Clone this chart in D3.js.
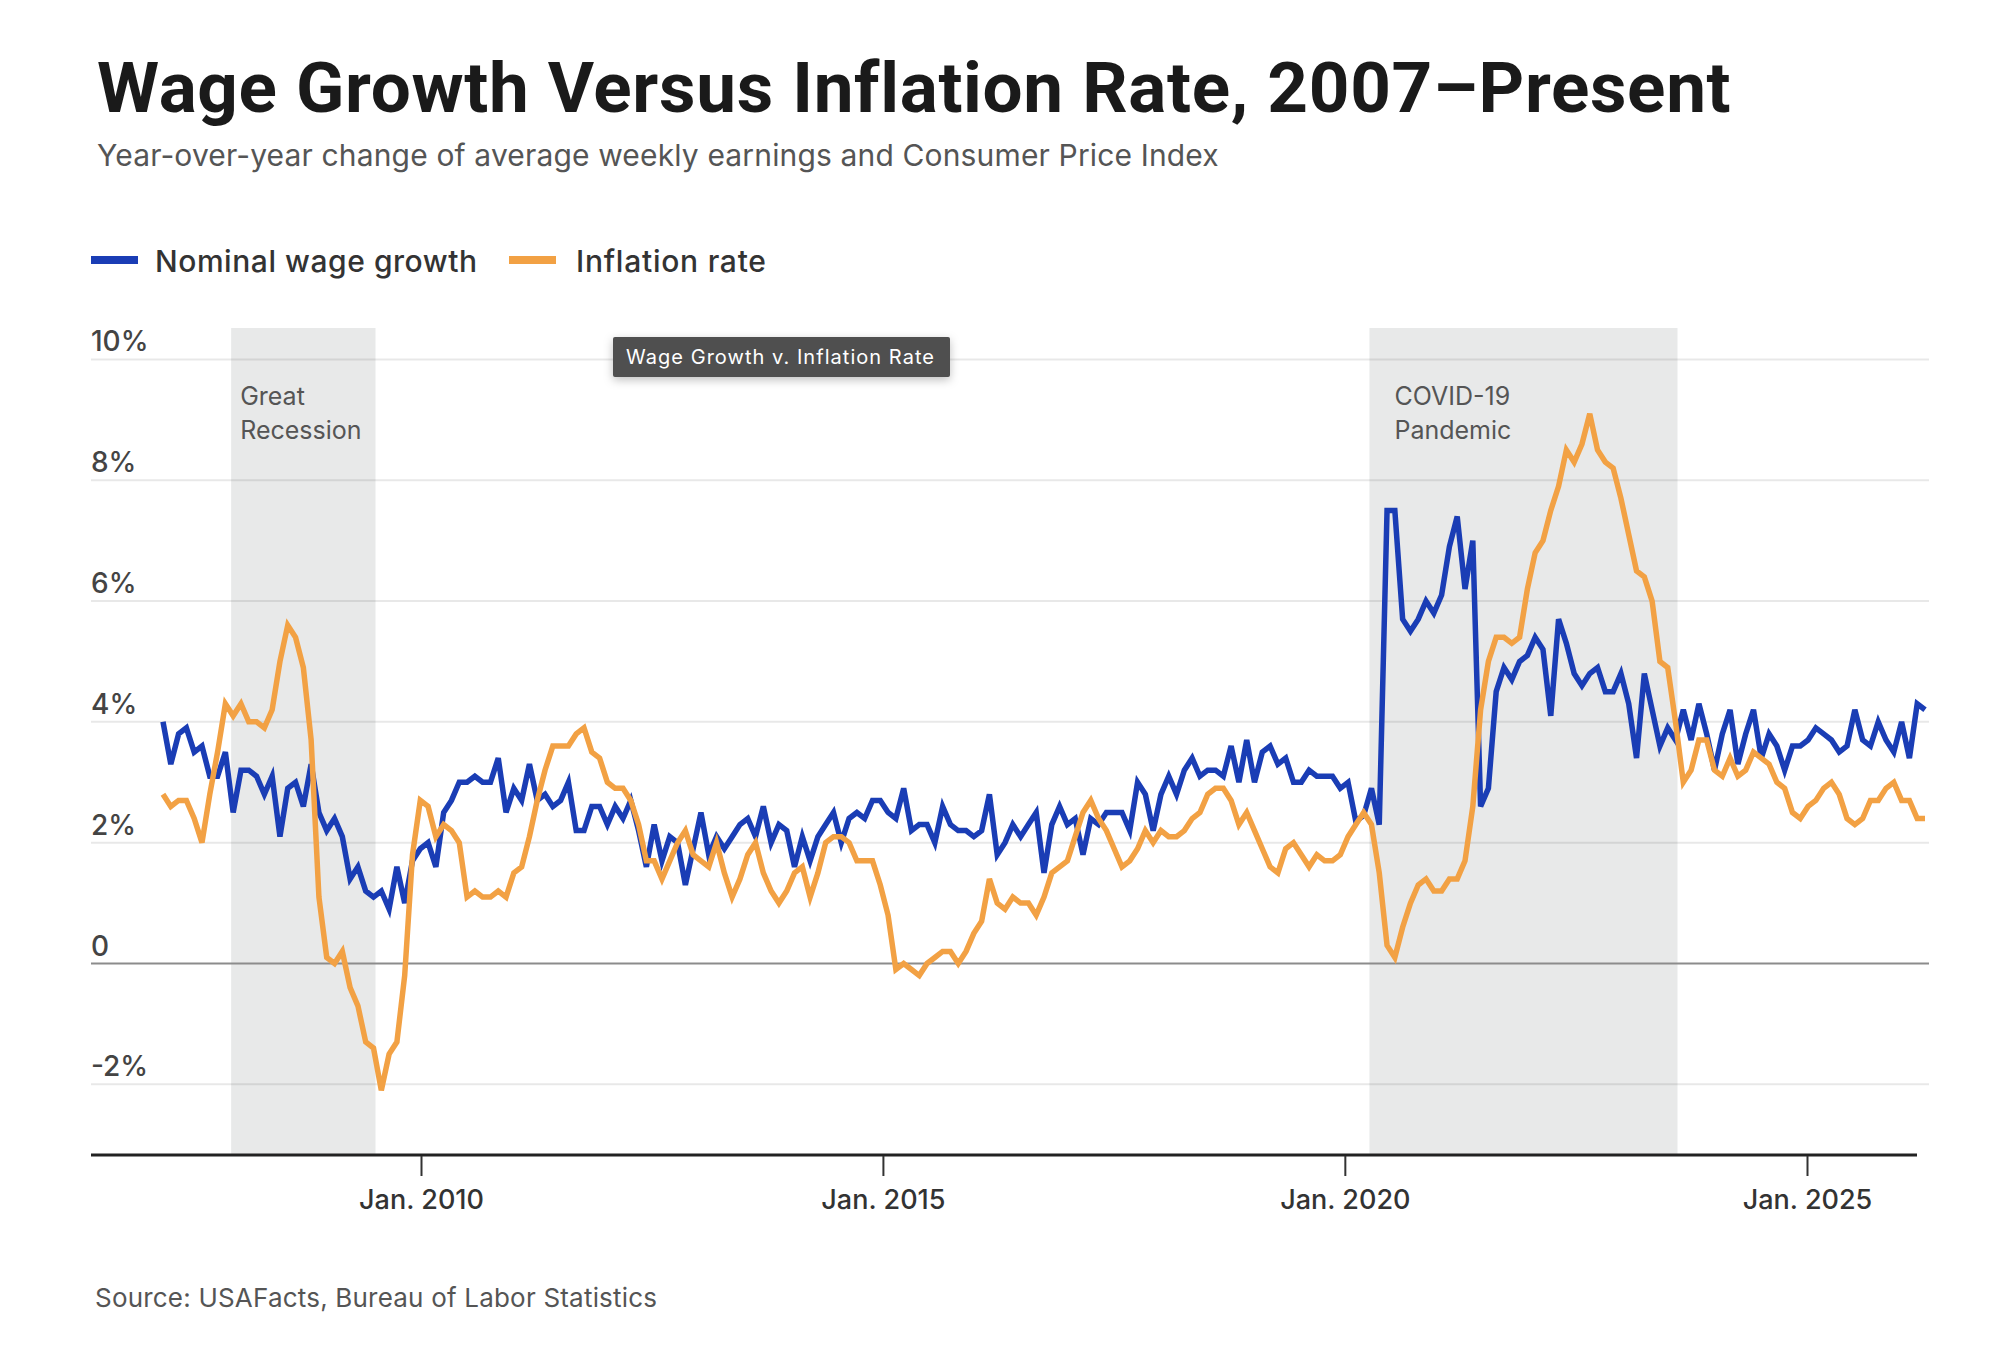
<!DOCTYPE html>
<html>
<head>
<meta charset="utf-8">
<script src="https://cdn.jsdelivr.net/npm/d3@7"></script>
<style>
  html, body { margin: 0; padding: 0; background: #fff; }
  svg { display: block; }
  text { font-family: Inter, "Noto Sans", sans-serif; }
</style>
</head>
<body>
<div id="chart"></div>
<script>
////////////////////////////////////////////////////////////////////
////////////////////////////  Data  ////////////////////////////////
// monthly, Mar. 2007 - Feb. 2026 (no Oct. 2025 release, so that month is skipped)
const firstMonth = new Date(2007, 2, 1);
const lastMonth = new Date(2026, 1, 1);
const skippedMonths = ["2025-10"];

// year-over-year change of average weekly earnings, %
const wageGrowth = [
  4.0, 3.3, 3.8, 3.9, 3.5, 3.6, 3.1, 3.1, 3.5, 2.5, // 2007 (Mar-Dec)
  3.2, 3.2, 3.1, 2.8, 3.1, 2.1, 2.9, 3.0, 2.6, 3.3, 2.5, 2.2, // 2008
  2.4, 2.1, 1.4, 1.6, 1.2, 1.1, 1.2, 0.9, 1.6, 1.0, 1.7, 1.9, // 2009
  2.0, 1.6, 2.5, 2.7, 3.0, 3.0, 3.1, 3.0, 3.0, 3.4, 2.5, 2.9, // 2010
  2.7, 3.3, 2.7, 2.8, 2.6, 2.7, 3.0, 2.2, 2.2, 2.6, 2.6, 2.3, // 2011
  2.6, 2.4, 2.7, 2.2, 1.6, 2.3, 1.7, 2.1, 2.0, 1.3, 1.9, 2.5, // 2012
  1.8, 2.1, 1.9, 2.1, 2.3, 2.4, 2.1, 2.6, 2.0, 2.3, 2.2, 1.6, // 2013
  2.1, 1.7, 2.1, 2.3, 2.5, 2.0, 2.4, 2.5, 2.4, 2.7, 2.7, 2.5, // 2014
  2.4, 2.9, 2.2, 2.3, 2.3, 2.0, 2.6, 2.3, 2.2, 2.2, 2.1, 2.2, // 2015
  2.8, 1.8, 2.0, 2.3, 2.1, 2.3, 2.5, 1.5, 2.3, 2.6, 2.3, 2.4, // 2016
  1.8, 2.4, 2.3, 2.5, 2.5, 2.5, 2.2, 3.0, 2.8, 2.2, 2.8, 3.1, // 2017
  2.8, 3.2, 3.4, 3.1, 3.2, 3.2, 3.1, 3.6, 3.0, 3.7, 3.0, 3.5, // 2018
  3.6, 3.3, 3.4, 3.0, 3.0, 3.2, 3.1, 3.1, 3.1, 2.9, 3.0, 2.35, // 2019
  2.45, 2.9, 2.3, 7.5, 7.5, 5.7, 5.5, 5.7, 6.0, 5.8, 6.1, 6.9, // 2020
  7.4, 6.2, 7.0, 2.6, 2.9, 4.5, 4.9, 4.7, 5.0, 5.1, 5.4, 5.2, // 2021
  4.1, 5.7, 5.3, 4.8, 4.6, 4.8, 4.9, 4.5, 4.5, 4.8, 4.3, 3.4, // 2022
  4.8, 4.2, 3.6, 3.9, 3.7, 4.2, 3.7, 4.3, 3.8, 3.2, 3.8, 4.2, // 2023
  3.3, 3.8, 4.2, 3.4, 3.8, 3.6, 3.2, 3.6, 3.6, 3.7, 3.9, 3.8, // 2024
  3.7, 3.5, 3.6, 4.2, 3.7, 3.6, 4.0, 3.7, 3.5, 4.0, 3.4, // 2025 (no Oct)
  4.3, 4.2 // 2026
];

// year-over-year change of CPI, %
const inflationRate = [
  2.8, 2.6, 2.7, 2.7, 2.4, 2.0, 2.8, 3.5, 4.3, 4.1, // 2007 (Mar-Dec)
  4.3, 4.0, 4.0, 3.9, 4.2, 5.0, 5.6, 5.4, 4.9, 3.7, 1.1, 0.1, // 2008
  0.0, 0.2, -0.4, -0.7, -1.3, -1.4, -2.1, -1.5, -1.3, -0.2, 1.8, 2.7, // 2009
  2.6, 2.1, 2.3, 2.2, 2.0, 1.1, 1.2, 1.1, 1.1, 1.2, 1.1, 1.5, // 2010
  1.6, 2.1, 2.7, 3.2, 3.6, 3.6, 3.6, 3.8, 3.9, 3.5, 3.4, 3.0, // 2011
  2.9, 2.9, 2.7, 2.3, 1.7, 1.7, 1.4, 1.7, 2.0, 2.2, 1.8, 1.7, // 2012
  1.6, 2.0, 1.5, 1.1, 1.4, 1.8, 2.0, 1.5, 1.2, 1.0, 1.2, 1.5, // 2013
  1.6, 1.1, 1.5, 2.0, 2.1, 2.1, 2.0, 1.7, 1.7, 1.7, 1.3, 0.8, // 2014
  -0.1, 0.0, -0.1, -0.2, 0.0, 0.1, 0.2, 0.2, 0.0, 0.2, 0.5, 0.7, // 2015
  1.4, 1.0, 0.9, 1.1, 1.0, 1.0, 0.8, 1.1, 1.5, 1.6, 1.7, 2.1, // 2016
  2.5, 2.7, 2.4, 2.2, 1.9, 1.6, 1.7, 1.9, 2.2, 2.0, 2.2, 2.1, // 2017
  2.1, 2.2, 2.4, 2.5, 2.8, 2.9, 2.9, 2.7, 2.3, 2.5, 2.2, 1.9, // 2018
  1.6, 1.5, 1.9, 2.0, 1.8, 1.6, 1.8, 1.7, 1.7, 1.8, 2.1, 2.3, // 2019
  2.5, 2.3, 1.5, 0.3, 0.1, 0.6, 1.0, 1.3, 1.4, 1.2, 1.2, 1.4, // 2020
  1.4, 1.7, 2.6, 4.2, 5.0, 5.4, 5.4, 5.3, 5.4, 6.2, 6.8, 7.0, // 2021
  7.5, 7.9, 8.5, 8.3, 8.6, 9.1, 8.5, 8.3, 8.2, 7.7, 7.1, 6.5, // 2022
  6.4, 6.0, 5.0, 4.9, 4.0, 3.0, 3.2, 3.7, 3.7, 3.2, 3.1, 3.4, // 2023
  3.1, 3.2, 3.5, 3.4, 3.3, 3.0, 2.9, 2.5, 2.4, 2.6, 2.7, 2.9, // 2024
  3.0, 2.8, 2.4, 2.3, 2.4, 2.7, 2.7, 2.9, 3.0, 2.7, 2.7, // 2025 (no Oct)
  2.4, 2.4 // 2026
];

const seriesNames = ["Nominal wage growth", "Inflation rate"];
const seriesColors = ["#1a3db5", "#f2a144"];

const periods = [
  { label: ["Great", "Recession"], start: "2007-12", end: "2009-06" },
  { label: ["COVID-19", "Pandemic"], start: "2020-02", end: "2023-05" }
];

const yTicks = [-2, 0, 2, 4, 6, 8, 10];
const xTickDates = [2010, 2015, 2020, 2025].map((yr) => new Date(yr, 0, 1));

const monthKey = d3.timeFormat("%Y-%m");
const months = d3
  .timeMonth.range(firstMonth, d3.timeMonth.offset(lastMonth, 1))
  .map(monthKey)
  .filter((m) => !skippedMonths.includes(m));

const data = months.map((m, i) => ({
  month: m,
  wage: wageGrowth[i],
  cpi: inflationRate[i]
}));
console.log(months.length, wageGrowth.length, inflationRate.length);

////////////////////////////////////////////////////////////////////
////////////////////////////  Layout  //////////////////////////////
const width = 2014;
const height = 1356;
const plot = { left: 91, right: 1917, gridRight: 1929, top: 328, bottom: 1155 };

const svg = d3
  .select("#chart")
  .append("svg")
  .attr("width", width)
  .attr("height", height);

// fit a text to a measured width by adjusting letter spacing
function fitWidth(sel, target) {
  const n = sel.text().length;
  const w = sel.node().getComputedTextLength();
  sel.attr("letter-spacing", ((target - w) / (n - 1)).toFixed(2));
  return sel;
}

// scales
const x = d3.scalePoint().domain(months).range([163, 1925]);
const y = d3.scaleLinear().domain([-3.17, 10.52]).range([plot.bottom, plot.top]);
// date axis of the original
const xAxisScale = d3
  .scaleTime()
  .domain([xTickDates[0], xTickDates[xTickDates.length - 1]])
  .range([421, 1807]);

////////////////////////////  Titles  //////////////////////////////
fitWidth(
  svg
    .append("text")
    .attr("x", 97)
    .attr("y", 112)
    .style("font-family", "Roboto, Inter, sans-serif")
    .style("font-weight", 700)
    .style("font-size", "71px")
    .style("fill", "#1a1a1a")
    .text("Wage Growth Versus Inflation Rate, 2007\u2013Present"),
  1633
);

fitWidth(
  svg
    .append("text")
    .attr("x", 97)
    .attr("y", 166)
    .style("font-size", "30px")
    .style("fill", "#555")
    .text("Year-over-year change of average weekly earnings and Consumer Price Index"),
  1122
);

////////////////////////////  Legend  //////////////////////////////
const legendItems = [
  { x: 91, tx: 155, w: 322 },
  { x: 509, tx: 576, w: 190 }
];
legendItems.forEach((d, i) => {
  svg
    .append("rect")
    .attr("x", d.x)
    .attr("y", 256)
    .attr("width", 47)
    .attr("height", 8)
    .attr("fill", seriesColors[i]);
  fitWidth(
    svg
      .append("text")
      .attr("x", d.tx)
      .attr("y", 272)
      .style("font-size", "30px")
      .style("font-weight", 500)
      .style("fill", "#333")
      .text(seriesNames[i]),
    d.w
  );
});

////////////////////////////  Shaded periods  ///////////////////////
const periodG = svg.append("g");
periodG
  .selectAll("rect")
  .data(periods)
  .enter()
  .append("rect")
  .attr("x", (d) => x(d.start) - 2)
  .attr("y", plot.top)
  .attr("width", (d) => x(d.end) - x(d.start) + 4)
  .attr("height", plot.bottom - plot.top)
  .attr("fill", "#e8e9e9");

periodG
  .selectAll("text")
  .data(periods)
  .enter()
  .append("text")
  .attr("x", (d) => x(d.start) + (d.start === "2007-12" ? 7 : 23))
  .attr("y", 405)
  .style("font-size", "25px")
  .style("fill", "#555")
  .selectAll("tspan")
  .data((d) => d.label)
  .enter()
  .append("tspan")
  .attr("x", function () {
    return d3.select(this.parentNode).attr("x");
  })
  .attr("dy", (d, i) => (i === 0 ? 0 : 34))
  .text((d) => d);

////////////////////////////  Grid & y labels  /////////////////////
const gridG = svg.append("g");
gridG
  .selectAll("line")
  .data(yTicks)
  .enter()
  .append("line")
  .attr("x1", plot.left)
  .attr("x2", plot.gridRight)
  .attr("y1", (d) => y(d))
  .attr("y2", (d) => y(d))
  .attr("stroke", (d) => (d === 0 ? "#8c8c8c" : "#000"))
  .attr("stroke-opacity", (d) => (d === 0 ? 1 : 0.09))
  .attr("stroke-width", 2);

gridG
  .selectAll("text")
  .data(yTicks)
  .enter()
  .append("text")
  .attr("x", plot.left)
  .attr("y", (d) => y(d) - 8)
  .style("font-size", "28px")
  .style("font-weight", 500)
  .style("fill", "#444")
  .text((d) => (d === 0 ? "0" : d + "%"));

////////////////////////////  Lines  ///////////////////////////////
const lineWage = d3
  .line()
  .x((d) => x(d.month))
  .y((d) => y(d.wage));
const lineCpi = d3
  .line()
  .x((d) => x(d.month))
  .y((d) => y(d.cpi));

svg
  .append("path")
  .datum(data)
  .attr("d", lineWage)
  .attr("fill", "none")
  .attr("stroke", seriesColors[0])
  .attr("stroke-width", 5.5);

svg
  .append("path")
  .datum(data)
  .attr("d", lineCpi)
  .attr("fill", "none")
  .attr("stroke", seriesColors[1])
  .attr("stroke-width", 5.5);

////////////////////////////  X axis  //////////////////////////////
svg
  .append("line")
  .attr("x1", plot.left)
  .attr("x2", plot.right)
  .attr("y1", plot.bottom)
  .attr("y2", plot.bottom)
  .attr("stroke", "#222")
  .attr("stroke-width", 3);

const xAxis = d3
  .axisBottom(xAxisScale)
  .tickValues(xTickDates)
  .tickSize(20)
  .tickPadding(14)
  .tickFormat(d3.timeFormat("Jan. %Y"));

const axisG = svg
  .append("g")
  .attr("transform", `translate(0,${plot.bottom + 1})`)
  .call(xAxis);
axisG.select(".domain").remove();
axisG.selectAll(".tick line").attr("stroke", "#333").attr("stroke-width", 2);
axisG
  .selectAll(".tick text")
  .style("font-family", "Inter, sans-serif")
  .style("font-size", "27px")
  .style("font-weight", 500)
  .style("fill", "#333");

////////////////////////////  Tooltip box  /////////////////////////
const defs = svg.append("defs");
const shadow = defs.append("filter").attr("id", "shadow").attr("x", "-20%").attr("y", "-40%").attr("width", "140%").attr("height", "200%");
shadow
  .append("feDropShadow")
  .attr("dx", 0)
  .attr("dy", 3)
  .attr("stdDeviation", 5)
  .attr("flood-color", "#000")
  .attr("flood-opacity", 0.25);

svg
  .append("rect")
  .attr("x", 613)
  .attr("y", 337)
  .attr("width", 337)
  .attr("height", 40)
  .attr("rx", 2)
  .attr("fill", "#4f4f4f")
  .attr("filter", "url(#shadow)");

fitWidth(
  svg
    .append("text")
    .attr("x", 626)
    .attr("y", 364)
    .style("font-size", "20px")
    .style("fill", "#fff")
    .text("Wage Growth v. Inflation Rate"),
  308
);

////////////////////////////  Source  //////////////////////////////
fitWidth(
  svg
    .append("text")
    .attr("x", 95)
    .attr("y", 1307)
    .style("font-size", "26px")
    .style("fill", "#555")
    .text("Source: USAFacts, Bureau of Labor Statistics"),
  562
);
</script>
</body>
</html>
